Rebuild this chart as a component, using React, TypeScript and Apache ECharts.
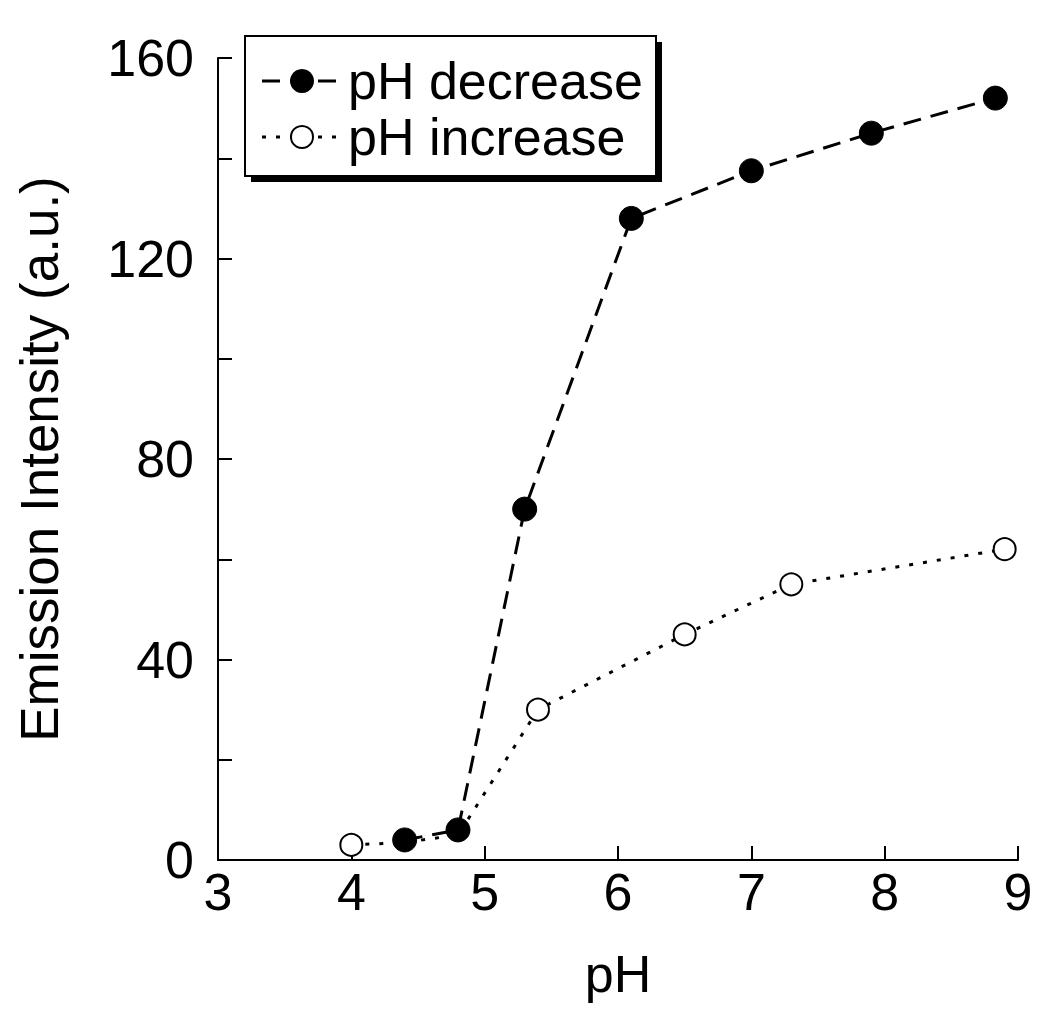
import React, { useEffect, useRef } from "react";
import * as echarts from "echarts";

const decreasePH = [4.4, 4.8, 5.3, 6.1, 7.0, 7.9, 8.83];
const decreaseIntensity = [4, 6, 70, 128, 137.5, 145, 152];
const increasePH = [4.0, 4.4, 4.8, 5.4, 6.5, 7.3, 8.9];
const increaseIntensity = [3, 3.5, 5, 30, 45, 55, 62];
const legendLabels = ["pH decrease", "pH increase"];
const xTitle = "pH";
const yTitle = "Emission Intensity (a.u.)";

const FONT = "'Liberation Sans', Arial, sans-serif";

export default function App() {
  const ref = useRef<HTMLDivElement>(null);
  useEffect(() => {
    document.body.style.margin = "0";
    if (!ref.current) return;
    const chart = echarts.init(ref.current, undefined, { renderer: "svg" });
    const dec = decreasePH.map((x, i) => [x, decreaseIntensity[i]]);
    const inc = increasePH.map((x, i) =>
      decreasePH.includes(x)
        ? { value: [x, increaseIntensity[i]], symbol: "none" }
        : { value: [x, increaseIntensity[i]] }
    );
    const lx = 245, ly = 36, lw = 411, lh = 140;
    chart.setOption({
      animation: false,
      backgroundColor: "#fff",
      grid: { left: 218, right: 32, top: 58, bottom: 159, containLabel: false },
      xAxis: {
        type: "value",
        min: 3,
        max: 9,
        interval: 1,
        name: xTitle,
        nameLocation: "middle",
        nameGap: 88,
        nameTextStyle: { fontFamily: FONT, fontSize: 52, color: "#000" },
        axisLine: { show: true, onZero: false, lineStyle: { color: "#000", width: 2 } },
        axisTick: { show: true, inside: true, length: 14, lineStyle: { color: "#000", width: 2 } },
        axisLabel: { fontFamily: FONT, fontSize: 52, color: "#000", margin: 6 },
        splitLine: { show: false },
      },
      yAxis: {
        type: "value",
        min: 0,
        max: 160,
        interval: 20,
        name: yTitle,
        nameLocation: "middle",
        nameGap: 152,
        nameTextStyle: { fontFamily: FONT, fontSize: 53, color: "#000" },
        axisLine: { show: true, onZero: false, lineStyle: { color: "#000", width: 2 } },
        axisTick: { show: true, inside: true, length: 14, lineStyle: { color: "#000", width: 2 } },
        axisLabel: {
          fontFamily: FONT,
          fontSize: 52,
          color: "#000",
          margin: 24,
          formatter: (v: number) => (v % 40 === 0 ? String(v) : ""),
        },
        splitLine: { show: false },
      },
      series: [
        {
          name: legendLabels[1],
          type: "line",
          data: inc,
          symbol: "circle",
          symbolSize: 22,
          z: 2,
          lineStyle: { color: "#000", width: 3, type: [4, 10] },
          itemStyle: { color: "#fff", borderColor: "#000", borderWidth: 2 },
        },
        {
          name: legendLabels[0],
          type: "line",
          data: dec,
          symbol: "circle",
          symbolSize: 24,
          z: 3,
          lineStyle: { color: "#000", width: 3, type: [18, 10] },
          itemStyle: { color: "#000", borderColor: "#000", borderWidth: 1 },
        },
      ],
      graphic: [
        { type: "rect", shape: { x: lx + 6, y: ly + 6, width: lw, height: lh }, style: { fill: "#000" }, z: 10 },
        { type: "rect", shape: { x: lx, y: ly, width: lw, height: lh }, style: { fill: "#fff", stroke: "#000", lineWidth: 2 }, z: 11 },
        { type: "line", shape: { x1: 262, y1: 81, x2: 345, y2: 81 }, style: { stroke: "#000", lineWidth: 3, lineDash: [18, 10] }, z: 12 },
        { type: "circle", shape: { cx: 302, cy: 81, r: 12 }, style: { fill: "#000" }, z: 13 },
        { type: "line", shape: { x1: 262, y1: 137, x2: 345, y2: 137 }, style: { stroke: "#000", lineWidth: 3, lineDash: [4, 10] }, z: 12 },
        { type: "circle", shape: { cx: 302, cy: 137, r: 11 }, style: { fill: "#fff", stroke: "#000", lineWidth: 2 }, z: 13 },
        { type: "text", x: 348, y: 81, style: { text: legendLabels[0], font: `52px ${FONT}`, fill: "#000", verticalAlign: "middle" }, z: 13 },
        { type: "text", x: 348, y: 137, style: { text: legendLabels[1], font: `52px ${FONT}`, fill: "#000", verticalAlign: "middle" }, z: 13 },
      ],
    });
    return () => chart.dispose();
  }, []);
  return <div ref={ref} style={{ width: 1050, height: 1019 }} />;
}
